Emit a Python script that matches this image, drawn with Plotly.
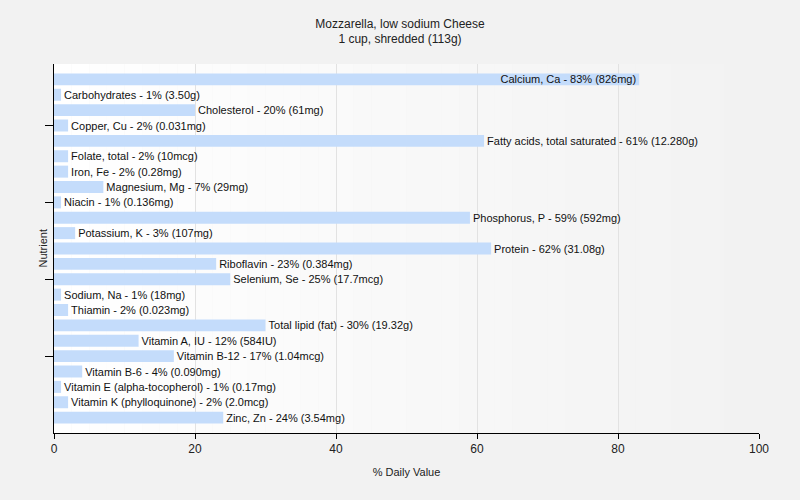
import plotly.graph_objects as go

nutrients = [
    "Calcium, Ca", "Carbohydrates", "Cholesterol", "Copper, Cu",
    "Fatty acids, total saturated", "Folate, total", "Iron, Fe", "Magnesium, Mg",
    "Niacin", "Phosphorus, P", "Potassium, K", "Protein", "Riboflavin",
    "Selenium, Se", "Sodium, Na", "Thiamin", "Total lipid (fat)",
    "Vitamin A, IU", "Vitamin B-12", "Vitamin B-6",
    "Vitamin E (alpha-tocopherol)", "Vitamin K (phylloquinone)", "Zinc, Zn",
]
percent = [83, 1, 20, 2, 61, 2, 2, 7, 1, 59, 3, 62, 23, 25, 1, 2, 30, 12, 17, 4, 1, 2, 24]
amounts = [
    "826mg", "3.50g", "61mg", "0.031mg", "12.280g", "10mcg", "0.28mg", "29mg",
    "0.136mg", "592mg", "107mg", "31.08g", "0.384mg", "17.7mcg", "18mg",
    "0.023mg", "19.32g", "584IU", "1.04mcg", "0.090mg", "0.17mg", "2.0mcg", "3.54mg",
]
tick_nutrients = ["Copper, Cu", "Niacin", "Selenium, Se", "Vitamin B-12"]
x_ticks = [0, 20, 40, 60, 80, 100]

labels = [f"{n} - {p}% ({a})" for n, p, a in zip(nutrients, percent, amounts)]
positions = ["inside" if p + len(t) * 0.72 > 100 else "outside" for p, t in zip(percent, labels)]

font = "Tahoma, 'Liberation Sans', Arial, sans-serif"

fig = go.Figure(go.Bar(
    x=percent, y=nutrients, orientation="h",
    text=labels, textposition=positions,
    insidetextanchor="end", constraintext="none", cliponaxis=False,
    textfont=dict(family=font, size=11, color="#111111"),
    insidetextfont=dict(family=font, size=11, color="#111111"),
    outsidetextfont=dict(family=font, size=11, color="#111111"),
    marker=dict(color="#c4dcfb", line=dict(width=0)),
    width=0.78, hoverinfo="skip",
))

# plot-area gradient background
n = 40
shapes = []
for i in range(n):
    t = i / (n - 1)
    c = int(round(255 - t * (255 - 242)))
    shapes.append(dict(type="rect", xref="paper", yref="paper",
                       x0=i / n, x1=(i + 1) / n, y0=0, y1=1,
                       fillcolor=f"rgb({c},{c},{c})", line=dict(width=0), layer="below"))

fig.update_layout(
    width=800, height=500,
    margin=dict(l=54, r=41, t=64, b=67, autoexpand=False),
    paper_bgcolor="#f2f2f2", plot_bgcolor="rgba(0,0,0,0)",
    shapes=shapes,
    showlegend=False,
    font=dict(family=font, size=12, color="#222222"),
    title=dict(text="Mozzarella, low sodium Cheese<br>1 cup, shredded (113g)",
               x=0.5, xanchor="center", y=0.945, yanchor="middle", yref="container",
               font=dict(family=font, size=12, color="#222222")),
    xaxis=dict(range=[0, 100], tickvals=x_ticks, showgrid=True, gridcolor="#e2e2e2",
               showline=True, linecolor="#000000", linewidth=1, ticks="outside",
               ticklen=5, tickcolor="#000000", zeroline=False, automargin=False,
               tickfont=dict(size=12, color="#222222"),
               title=dict(text="% Daily Value", font=dict(size=11), standoff=12)),
    yaxis=dict(range=[len(nutrients), -1], categoryorder="array", categoryarray=nutrients,
               tickvals=tick_nutrients, ticktext=["" for _ in tick_nutrients],
               showline=True, linecolor="#000000", linewidth=1, ticks="outside",
               ticklen=8, tickcolor="#000000", showgrid=False, zeroline=False,
               automargin=False),
    annotations=[dict(text="Nutrient", xref="paper", yref="paper",
                      x=-12 / 705, y=0.5, xanchor="center", yanchor="middle",
                      textangle=-90, showarrow=False,
                      font=dict(family=font, size=11, color="#222222"))],
)

fig.write_html("out.html", config={"displayModeBar": False, "staticPlot": True},
               post_script="document.body.style.margin='0';")
